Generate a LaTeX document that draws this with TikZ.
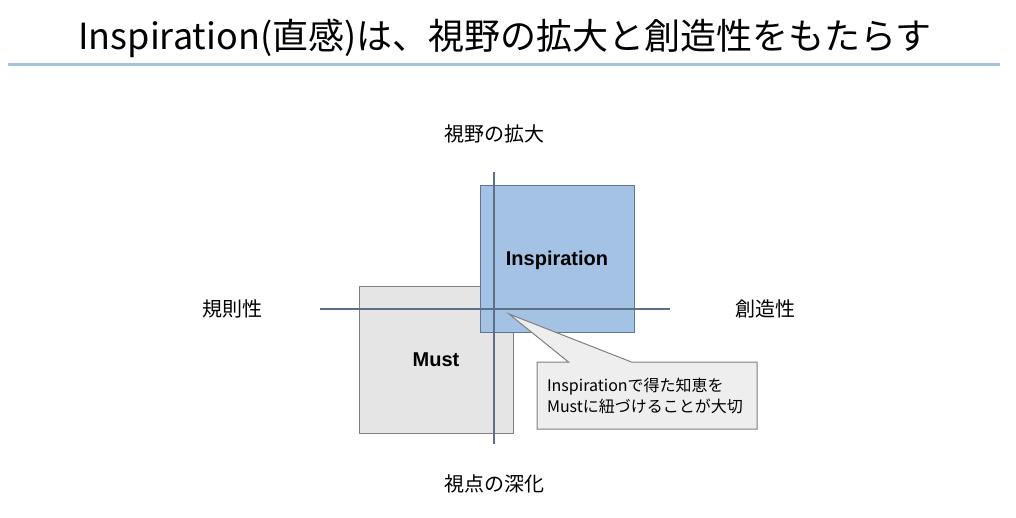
\documentclass[tikz,border=0pt]{standalone}
\usepackage{fontspec}
\setmainfont{Liberation Sans}
\newfontfamily\jpfont{Noto Sans CJK JP}
\usetikzlibrary{positioning,shapes.callouts}

\definecolor{insblue}{HTML}{A4C2E3}
\definecolor{insedge}{HTML}{5F7594}
\definecolor{mustgray}{HTML}{E5E5E5}
\definecolor{mustedge}{HTML}{7F7F7F}
\definecolor{axisline}{HTML}{5E7089}
\definecolor{notegray}{HTML}{EEEEEE}
\definecolor{ruleblue}{HTML}{A6C3E3}

\begin{document}
\begin{tikzpicture}[
x=1pt, y=-1pt,
quad/.style={draw, line width=1pt,
             minimum width=154pt,
             minimum height=147pt,
             text depth=0pt,
             font=\fontsize{20}{24}\selectfont\bfseries},
axis/.style={draw=axisline, line width=1.1pt},
axlabel/.style={font=\jpfont\fontsize{20}{24}\selectfont},
note/.style={rectangle callout, draw=mustedge, fill=notegray, line width=1pt,
             callout pointer width=63pt,
             text width=200pt, inner sep=10pt, minimum height=67pt,
             align=left,
             font=\jpfont\fontsize{16}{21}\selectfont}
]
\useasboundingbox (0,0) rectangle (1016,517);

% title
\node[font=\jpfont\fontsize{36}{40}\selectfont] (title) at (505,38)
  {Inspiration(直感)は、視野の拡大と創造性をもたらす};
\draw[ruleblue, line width=3.5pt] (8,64.5) -- (1000,64.5);

% quadrant boxes
\node[quad, draw=mustedge, fill=mustgray] (must) at (436,359.5) {Must};
\node[quad, draw=insedge, fill=insblue] (insp) at (557,258.5) {Inspiration};

% axes
\coordinate (vtop) at (494,172);
\coordinate (vbot) at (494,444);
\coordinate (hleft) at (320,309);
\coordinate (hright) at (670,309);
\draw[axis] (vtop) -- (vbot);
\draw[axis] (hleft) -- (hright);

\node[axlabel] (up) at (494,134) {視野の拡大};
\node[axlabel] (down) at (494,484) {視点の深化};
\node[axlabel] (left) at (232,309) {規則性};
\node[axlabel] (right) at (765,309) {創造性};

% note
\coordinate (tip) at (509,314);
\node[note, callout absolute pointer={(tip)}] (memo) at (647,395.5)
  {Inspirationで得た知恵を\\Mustに紐づけることが大切};

\end{tikzpicture}
\end{document}
